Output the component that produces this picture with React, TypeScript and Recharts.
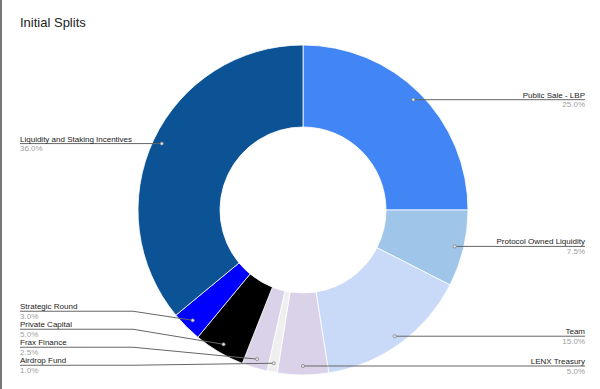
import { PieChart, Pie, Cell } from 'recharts';

const categories = [
  'Public Sale - LBP',
  'Protocol Owned Liquidity',
  'Team',
  'LENX Treasury',
  'Airdrop Fund',
  'Frax Finance',
  'Private Capital',
  'Strategic Round',
  'Liquidity and Staking Incentives',
];
const shares = [25.0, 7.5, 15.0, 5.0, 1.0, 2.5, 5.0, 3.0, 36.0];
const colors = ['#4285f4', '#9fc5e8', '#c9daf8', '#d9d2e9', '#efefef', '#d9d2e9', '#000000', '#0000ff', '#0b5394'];

const data = categories.map((name, i) => ({ name, value: shares[i] }));

const WIDTH = 600;
const HEIGHT = 389;
const CX = 303;
const CY = 210;
const OUTER = 165;
const INNER = 83;
const DOT_INSET = 9;
const LEFT_X = 20;
const RIGHT_X = 585;
const ELBOW_X = 133;
const ROW = 18;

// clockwise angle from 12 o'clock of each slice's middle, used to stack the left-hand labels
const total = shares.reduce((a, b) => a + b, 0);
const midAngles = shares.map((v, i) => {
  const before = shares.slice(0, i).reduce((a, b) => a + b, 0);
  return ((before + v / 2) / total) * 360;
});
const onRight = midAngles.map(a => a <= 180.001);

const labelYs = (() => {
  const ys: number[] = [];
  const r = OUTER - DOT_INSET;
  const dotY = midAngles.map(a => CY - r * Math.cos((a * Math.PI) / 180));
  const left = midAngles.map((_, i) => i).filter(i => !onRight[i]);
  left.sort((a, b) => dotY[b] - dotY[a]);
  let prev = Infinity;
  left.forEach((i, k) => {
    const y = Math.min(k === 0 ? dotY[i] + 2 : dotY[i], prev - ROW);
    ys[i] = y;
    prev = y;
  });
  midAngles.forEach((_, i) => {
    if (onRight[i]) ys[i] = dotY[i];
  });
  return ys;
})();

const font = '"Liberation Sans", Arial, sans-serif';

function renderLabel(props: any) {
  const { cx, cy, midAngle, outerRadius, index } = props;
  const rad = (-midAngle * Math.PI) / 180;
  const r = outerRadius - DOT_INSET;
  const dx = cx + r * Math.cos(rad);
  const dy = cy + r * Math.sin(rad);
  const ly = labelYs[index];
  const right = onRight[index];
  const tx = right ? RIGHT_X : LEFT_X;
  const points = right
    ? `${dx},${dy} ${tx},${ly}`
    : Math.abs(ly - dy) > 0.5
      ? `${tx},${ly} ${ELBOW_X},${ly} ${dx},${dy}`
      : `${tx},${ly} ${dx},${dy}`;
  return (
    <g key={`lbl-${index}`}>
      <polyline points={points} fill="none" stroke="#666" strokeWidth={1} />
      <circle cx={dx} cy={dy} r={1.6} fill="#ddd" stroke="#777" strokeWidth={0.6} />
      <text x={tx} y={ly - 2} textAnchor={right ? 'end' : 'start'} fontSize={8} fill="#222" fontFamily={font}>
        {categories[index]}
      </text>
      <text x={tx} y={ly + 7.5} textAnchor={right ? 'end' : 'start'} fontSize={8} fill="#9e9e9e" fontFamily={font}>
        {shares[index].toFixed(1)}%
      </text>
    </g>
  );
}

export default function App() {
  return (
    <div
      style={{
        position: 'absolute',
        top: 0,
        left: 0,
        width: WIDTH,
        height: HEIGHT,
        background: '#fff',
        borderLeft: '2px solid #777',
        boxSizing: 'border-box',
        overflow: 'hidden',
      }}
    >
      <div
        style={{
          position: 'absolute',
          left: 18,
          top: 15,
          fontFamily: font,
          fontSize: 13,
          color: '#222',
        }}
      >
        Initial Splits
      </div>
      <PieChart
        width={WIDTH}
        height={HEIGHT}
        margin={{ top: 0, right: 0, bottom: 0, left: 0 }}
        style={{ position: 'absolute', left: -2, top: 0 }}
      >
        <Pie
          data={data}
          dataKey="value"
          nameKey="name"
          cx={CX}
          cy={CY}
          innerRadius={INNER}
          outerRadius={OUTER}
          startAngle={90}
          endAngle={-270}
          stroke="#fff"
          strokeWidth={0.8}
          label={renderLabel}
          labelLine={false}
          isAnimationActive={false}
        >
          {data.map((d, i) => (
            <Cell key={d.name} fill={colors[i]} />
          ))}
        </Pie>
      </PieChart>
    </div>
  );
}
